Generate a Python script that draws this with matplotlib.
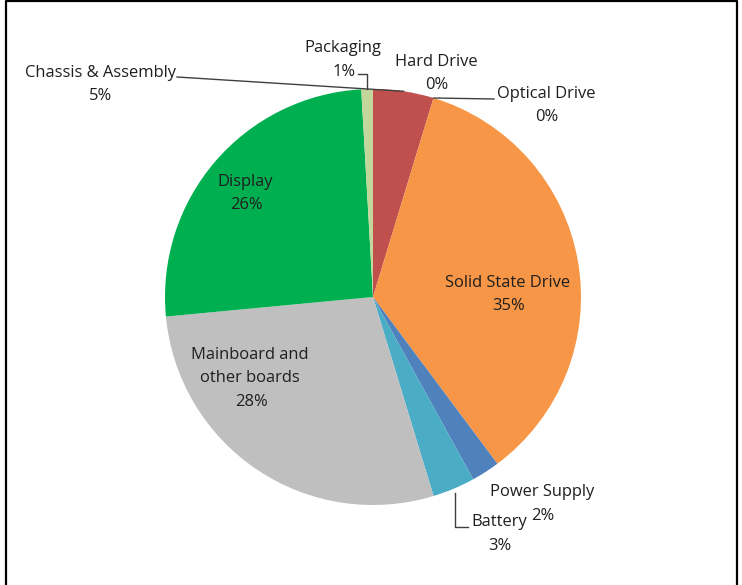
import numpy as np
import matplotlib
matplotlib.use('Agg')
import matplotlib.pyplot as plt
from matplotlib.lines import Line2D

plt.rcParams['font.family'] = ['Open Sans', 'DejaVu Sans']

# share of each component, clockwise from 12 o'clock
parts = ['Chassis & Assembly', 'Hard Drive', 'Optical Drive', 'Solid State Drive',
         'Power Supply', 'Battery', 'Mainboard and\nother boards', 'Display', 'Packaging']
shares = [4.7, 0.0, 0.0, 35.1, 2.2, 3.3, 28.2, 25.6, 0.9]
shown = ['5%', '0%', '0%', '35%', '2%', '3%', '28%', '26%', '1%']
colors = ['#C0504D', '#9BBB59', '#8064A2', '#F79646', '#4F81BD', '#4BACC6',
          '#BFBFBF', '#00B050', '#C3D69B']

W, H = 742, 585
CX, CY, R = 373, 297, 208

def px(x, y):
    # pixel position -> data coords (pie radius = 1)
    return (x - CX) / R, (CY - y) / R

fig = plt.figure(figsize=(W / 100, H / 100), dpi=100)
ax = fig.add_axes([0, 0, 1, 1])
wedges, _ = ax.pie(shares, colors=colors, startangle=90, counterclock=False,
                   radius=1, center=(0, 0), wedgeprops=dict(linewidth=0))
ax.set_xlim(px(0, 0)[0], px(W, 0)[0])
ax.set_ylim(px(0, H)[1], px(0, 0)[1])
ax.set_aspect('equal')
ax.axis('off')

tc = '#1f1f1f'
fs = 11.9
step = 23.5
# centre of the first text line, in pixels (layout only)
pos = {
    'Chassis & Assembly': (100, 73),
    'Hard Drive': (436, 62),
    'Optical Drive': (546, 94),
    'Solid State Drive': (508, 283),
    'Power Supply': (542, 492),
    'Battery': (499, 522),
    'Mainboard and\nother boards': (250, 355),
    'Display': (245, 182),
    'Packaging': (343, 48),
}
for name, pct in zip(parts, shown):
    x, y = pos[name]
    lines = name.split('\n') + [pct]
    for i, s in enumerate(lines):
        dx = 1 if s == pct else 0
        ax.text(*px(x + dx, y + i * step), s, ha='center', va='center',
                fontsize=fs, color=tc)

def edge_point(w, frac=0.5):
    a = np.deg2rad(w.theta1 + (w.theta2 - w.theta1) * frac)
    return np.cos(a), np.sin(a)

lc = '#404040'
# Chassis & Assembly leader
ex, ey = edge_point(wedges[0])
x0, y0 = px(177, 77)
ax.plot([x0, ex], [y0, ey], color=lc, lw=1)
# Packaging leader
ex, ey = edge_point(wedges[8])
x0, y0 = px(358, 74)
ax.plot([x0, ex, ex], [y0, y0, ey], color=lc, lw=1)
# Optical Drive leader
ex, ey = edge_point(wedges[2])
x0, y0 = px(494, 99)
ax.plot([x0, ex], [y0, ey], color=lc, lw=1)
# Battery leader
ex, ey = edge_point(wedges[5])
x0, y0 = px(468, 527)
x1 = px(455, 0)[0]
ax.plot([x0, x1, x1], [y0, y0, ey - 0.02], color=lc, lw=1)

# outer frame (no bottom edge)
fx0, fx1, fy = 6 / W, 737 / W, 1 - 1 / H
fig.add_artist(Line2D([fx0, fx0, fx1, fx1], [0, fy, fy, 0],
                      transform=fig.transFigure, color='black', lw=1.6))

plt.savefig('out.png', dpi=100)
